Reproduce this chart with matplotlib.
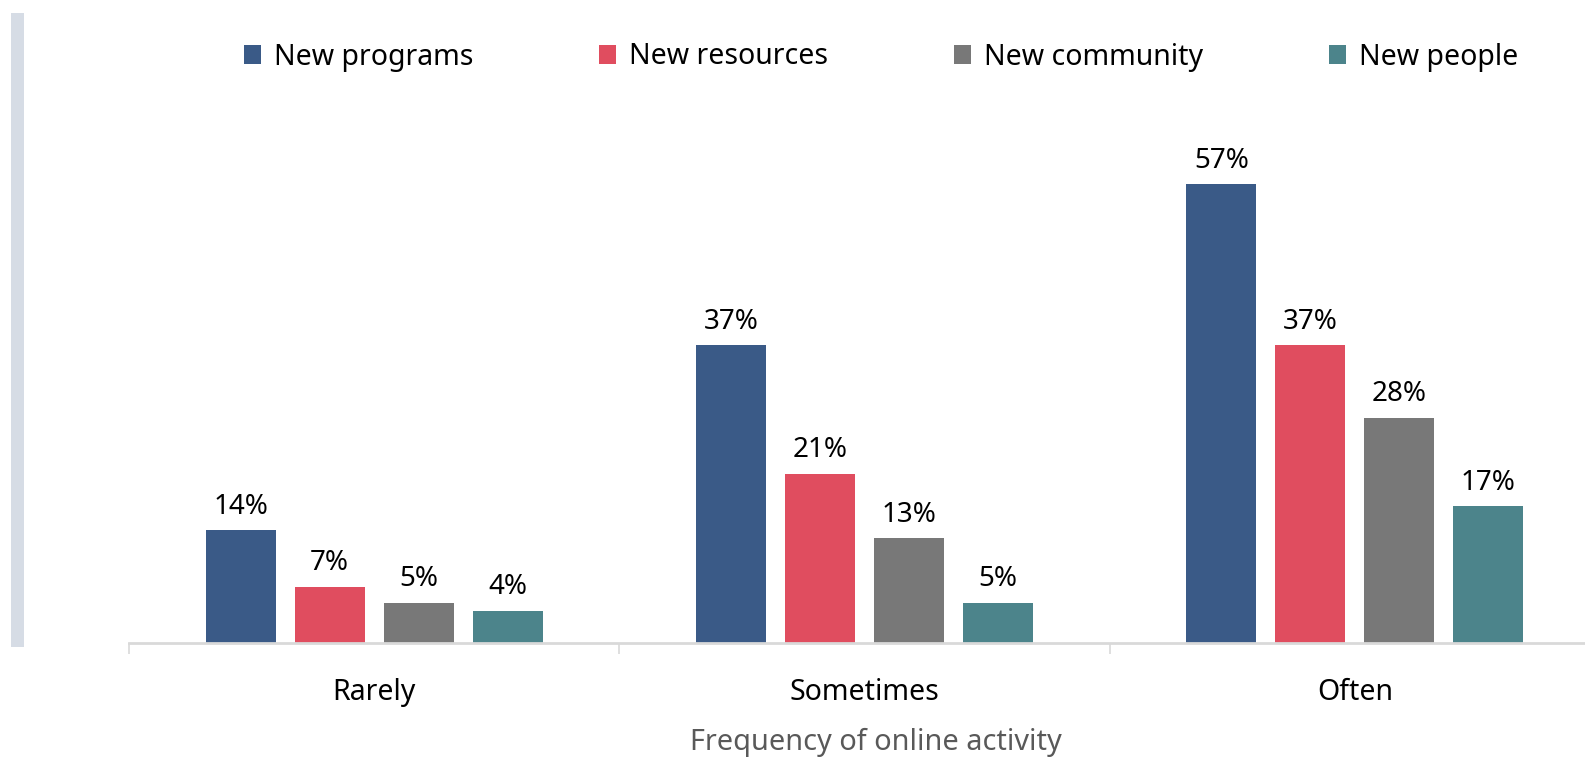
import matplotlib
matplotlib.use("Agg")
import matplotlib.pyplot as plt
import numpy as np
from matplotlib.patches import Patch, Rectangle

plt.rcParams['font.family'] = ['Noto Sans', 'DejaVu Sans']

# survey results (percent of respondents)
categories = ["Rarely", "Sometimes", "Often"]
series = ["New programs", "New resources", "New community", "New people"]
new_programs = [14, 37, 57]
new_resources = [7, 21, 37]
new_community = [5, 13, 28]
new_people = [4, 5, 17]
colors = ["#3A5A87", "#E04D5F", "#787878", "#4C848B"]

W, H = 1585, 757
fig = plt.figure(figsize=(W / 100, H / 100), dpi=100)
# plot area runs a bit past the right edge of the figure
ax = fig.add_axes([129 / W, 114 / H, 1471 / W, 523 / H])

x = np.arange(len(categories))
pitch = 0.1816
width = 0.143
values = [new_programs, new_resources, new_community, new_people]
for i, (vals, col) in enumerate(zip(values, colors)):
    pos = x + (i - 1.5) * pitch
    bars = ax.bar(pos, vals, width=width, color=col, zorder=2)
    for b, v in zip(bars, vals):
        ax.annotate(f"{v}%", (b.get_x() + b.get_width() / 2, v),
                    xytext=(0, 17), textcoords="offset points",
                    ha="center", va="center", fontsize=20, color="#000000")

ax.set_xlim(-0.5, 2.5)
ax.set_ylim(0, 65)

for s in ["top", "right", "left"]:
    ax.spines[s].set_visible(False)
ax.spines["bottom"].set_color("#D9D9D9")
ax.spines["bottom"].set_linewidth(2)
ax.set_yticks([])

# boundaries between categories get the tick marks, names go in the middle
ax.set_xticks([-0.5, 0.5, 1.5, 2.5])
ax.set_xticklabels([])
ax.tick_params(axis="x", which="major", length=8, width=1.2, color="#D9D9D9")
ax.set_xticks(x, minor=True)
ax.set_xticklabels(categories, minor=True, fontsize=20.5)
ax.tick_params(axis="x", which="minor", length=0, pad=25)
ax.set_xlabel("Frequency of online activity", fontsize=20.8, color="#595959")
ax.xaxis.set_label_coords(0.508, -0.163)

handles = [Patch(facecolor=c, edgecolor="none") for c in colors]
fig.legend(handles, series, loc="center", bbox_to_anchor=(881 / W, 1 - 57 / H),
           ncol=4, frameon=False, fontsize=20.5, handlelength=0.6, handleheight=0.6,
           handletextpad=0.45, columnspacing=4.43)

# light bar along the left edge
fig.patches.append(Rectangle((11 / W, 1 - 647 / H), 13 / W, 634 / H,
                             transform=fig.transFigure, facecolor="#D6DCE5",
                             edgecolor="none"))

fig.savefig("out.png", dpi=100)
